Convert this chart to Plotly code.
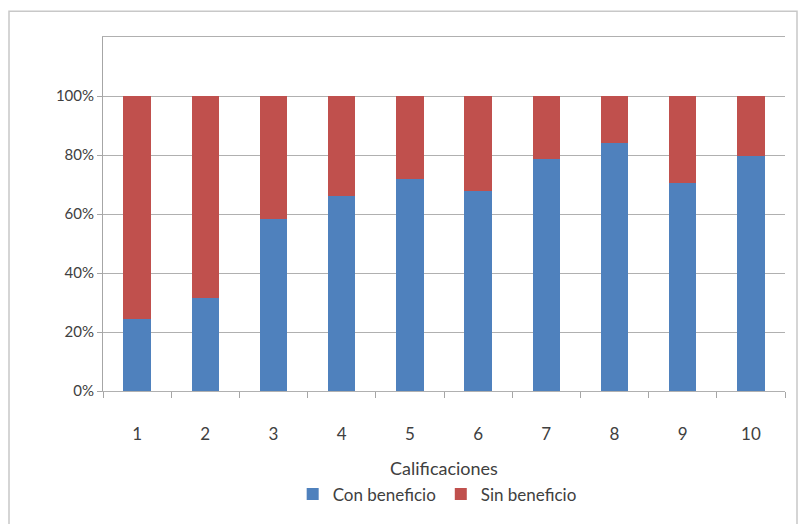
import plotly.graph_objects as go

# Rating categories and share of respondents with / without benefit
calificaciones = ["1", "2", "3", "4", "5", "6", "7", "8", "9", "10"]
con_beneficio = [0.244, 0.314, 0.582, 0.661, 0.717, 0.678, 0.785, 0.841, 0.704, 0.796]
sin_beneficio = [1 - v for v in con_beneficio]

y_ticks = [0, 0.2, 0.4, 0.6, 0.8, 1.0]
y_labels = ["0%", "20%", "40%", "60%", "80%", "100%"]

W, H = 801, 524
L, R, T, B = 103, 16, 37, 131
pw, ph = W - L - R, H - T - B

def px_x(x):
    return (x - L) / pw

def px_y(y):
    return (H - B - y) / ph

font = "Lato, 'Open Sans', sans-serif"
txt = "#404040"
grid = "#B0B0B0"

fig = go.Figure()
fig.add_trace(go.Bar(x=calificaciones, y=con_beneficio, name="Con beneficio",
                     marker=dict(color="#4F81BD", line=dict(width=0))))
fig.add_trace(go.Bar(x=calificaciones, y=sin_beneficio, name="Sin beneficio",
                     marker=dict(color="#C0504D", line=dict(width=0))))

fig.update_layout(
    width=W, height=H,
    margin=dict(l=L, r=R, t=T, b=B),
    barmode="stack", bargap=0.6,
    paper_bgcolor="white", plot_bgcolor="white",
    font=dict(family=font, color=txt),
    showlegend=True,
    legend=dict(orientation="h", x=0.49, xanchor="center", y=px_y(497), yanchor="middle",
                font=dict(size=17, color=txt), itemwidth=30, traceorder="normal",
                bgcolor="rgba(0,0,0,0)"),
    xaxis=dict(
        type="category", tickson="boundaries", ticks="outside", ticklen=6,
        tickcolor="#A6A6A6", showgrid=False, zeroline=False,
        # bottom axis line mirrored to close the top edge of the plot area
        showline=True, mirror=True, linecolor=grid, linewidth=1,
        tickfont=dict(size=17, color=txt), ticklabelstandoff=28,
        title=dict(text="Calificaciones", font=dict(size=18, color=txt), standoff=18),
    ),
    yaxis=dict(
        range=[0, 1.2], tickvals=y_ticks, ticktext=y_labels,
        ticks="outside", ticklen=5, tickcolor="#A6A6A6",
        showgrid=True, gridcolor=grid, gridwidth=1,
        showline=True, linecolor="#A6A6A6", linewidth=1, zeroline=False,
        tickfont=dict(size=15, color=txt),
    ),
    shapes=[
        # outer chart border
        dict(type="rect", xref="paper", yref="paper",
             x0=px_x(9), x1=px_x(797), y0=px_y(535), y1=px_y(11),
             line=dict(color="#C8C8C8", width=1.5), fillcolor="rgba(0,0,0,0)", layer="below"),
    ],
)

fig.write_html("out.html")
